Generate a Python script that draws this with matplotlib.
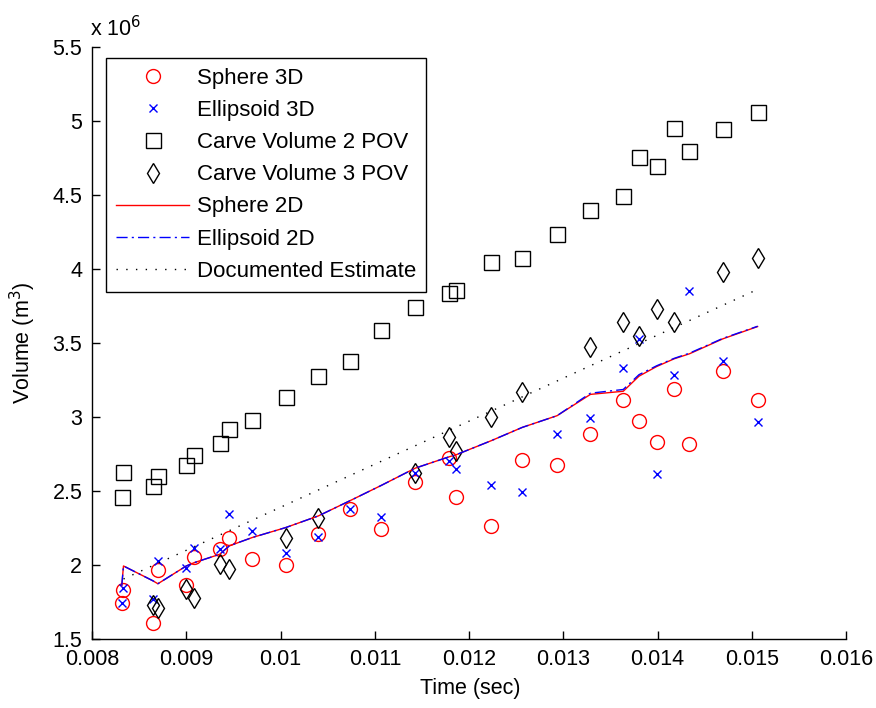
import matplotlib
matplotlib.use('Agg')
import matplotlib.pyplot as plt
from matplotlib.ticker import FormatStrFormatter

plt.rcParams['font.family'] = ['Liberation Sans', 'DejaVu Sans']

# time points (sec)
times = [0.008316, 0.008334, 0.008646, 0.008699, 0.009000, 0.009087, 0.009355,
         0.009457, 0.009699, 0.010053, 0.010401, 0.010734, 0.011068, 0.011430,
         0.011791, 0.011862, 0.012234, 0.012564, 0.012933, 0.013287, 0.013635,
         0.013802, 0.013989, 0.014174, 0.014337, 0.014691, 0.015060]

# volumes in units of 1e6 m^3
sphere_3d = [1.745, 1.831, 1.606, 1.964, 1.865, 2.054, 2.106, 2.181, 2.043, 2.000,
             2.212, 2.375, 2.246, 2.562, 2.722, 2.460, 2.264, 2.710, 2.675, 2.886,
             3.116, 2.970, 2.830, 3.189, 2.820, 3.308, 3.116]
ellipsoid_3d = [1.745, 1.846, 1.768, 2.027, 1.982, 2.113, 2.110, 2.347, 2.230, 2.083,
                2.189, 2.377, 2.325, 2.620, 2.704, 2.647, 2.543, 2.496, 2.884, 2.991,
                3.331, 3.527, 2.616, 3.285, 3.849, 3.380, 2.968]
carve_2pov = [2.460, 2.629, 2.530, 2.602, 2.675, 2.744, 2.825, 2.918, 2.978, 3.132,
              3.274, 3.376, 3.590, 3.741, 3.838, 3.859, 4.045, 4.070, 4.237, 4.400,
              4.495, 4.752, 4.693, 4.952, 4.799, 4.941, 5.056]

times_3pov = [0.008646, 0.008699, 0.009000, 0.009087, 0.009355, 0.009457, 0.010053,
              0.010401, 0.011430, 0.011791, 0.011862, 0.012234, 0.012564, 0.013287,
              0.013635, 0.013802, 0.013989, 0.014174, 0.014691, 0.015060]
carve_3pov = [1.729, 1.709, 1.836, 1.779, 2.005, 1.971, 2.185, 2.320, 2.620, 2.861,
              2.767, 3.001, 3.166, 3.470, 3.639, 3.543, 3.730, 3.639, 3.978, 4.072]

sphere_2d = [1.860, 1.993, 1.893, 1.873, 1.993, 2.016, 2.072, 2.129, 2.185, 2.252,
             2.331, 2.433, 2.537, 2.654, 2.731, 2.744, 2.839, 2.929, 3.008, 3.152,
             3.173, 3.275, 3.340, 3.392, 3.426, 3.527, 3.610]
ellipsoid_2d = [1.860, 1.993, 1.893, 1.873, 1.993, 2.016, 2.072, 2.129, 2.185, 2.252,
                2.331, 2.433, 2.537, 2.654, 2.731, 2.744, 2.839, 2.929, 3.008, 3.160,
                3.185, 3.285, 3.345, 3.395, 3.430, 3.530, 3.612]

doc_times = [0.008334, 0.015060]
doc_estimate = [1.905, 3.861]

fig = plt.figure(figsize=(8.76, 7.08), dpi=100)
ax = fig.add_axes([0.105, 0.0975, 0.861, 0.8365])

ax.plot(times, sphere_3d, 'o', color='red', mfc='none', ms=10, mew=1.0, label='Sphere 3D')
ax.plot(times, ellipsoid_3d, 'x', color='blue', ms=6, mew=1.0, label='Ellipsoid 3D')
ax.plot(times, carve_2pov, 's', color='black', mfc='none', ms=10.8, mew=1.0,
        label='Carve Volume 2 POV')
ax.plot(times_3pov, carve_3pov, 'd', color='black', mfc='none', ms=10.5, mew=1.0,
        label='Carve Volume 3 POV')
ax.plot(times, sphere_2d, '-', color='red', lw=1.0, label='Sphere 2D')
ax.plot(times, ellipsoid_2d, color='blue', lw=1.0, linestyle=(0, (8, 3, 1.5, 3)),
        label='Ellipsoid 2D')
ax.plot(doc_times, doc_estimate, color='black', lw=1.0, linestyle=(0, (1, 6)),
        label='Documented Estimate')

ax.set_xlim(0.008, 0.016)
ax.set_ylim(1.5, 5.5)
ax.set_xticks([0.008, 0.009, 0.010, 0.011, 0.012, 0.013, 0.014, 0.015, 0.016])
ax.set_yticks([1.5, 2, 2.5, 3, 3.5, 4, 4.5, 5, 5.5])
ax.xaxis.set_major_formatter(FormatStrFormatter('%g'))
ax.yaxis.set_major_formatter(FormatStrFormatter('%g'))
ax.tick_params(direction='in', length=6, width=1, labelsize=15.5, pad=7)

ax.spines['top'].set_visible(False)
ax.spines['right'].set_visible(False)
for s in ['left', 'bottom']:
    ax.spines[s].set_linewidth(1.0)

ax.set_xlabel('Time (sec)', fontsize=15.5)
ax.set_ylabel('Volume (m$^3$)', fontsize=15.5)
ax.xaxis.set_label_coords(0.501, -0.066)
ax.yaxis.set_label_coords(-0.072, 0.5)

ax.text(-0.003, 1.01, 'x 10$^6$', transform=ax.transAxes, fontsize=15.5,
        ha='left', va='bottom')

leg = ax.legend(loc='upper left', bbox_to_anchor=(0.0186, 0.981), borderaxespad=0,
                fontsize=16, handlelength=3.3, handletextpad=0.35, labelspacing=0.5,
                borderpad=0.45, fancybox=False, framealpha=1, edgecolor='black')
leg.get_frame().set_linewidth(1.0)

fig.savefig('out.png', dpi=100)
